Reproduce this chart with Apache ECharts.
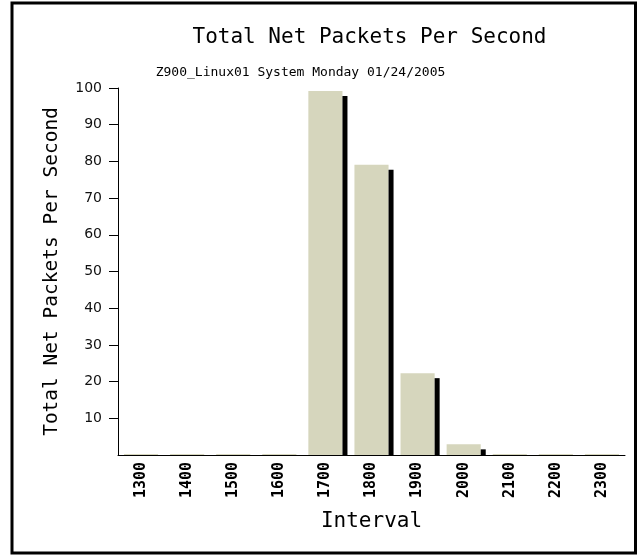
<!DOCTYPE html>
<html>
<head>
<meta charset="utf-8">
<script src="https://cdn.jsdelivr.net/npm/echarts@6/dist/echarts.min.js"></script>
<style>
html,body{margin:0;padding:0;background:#fff;}
#chart{width:640px;height:559px;}
</style>
</head>
<body>
<div id="chart"></div>
<script>
const categories = ['1300','1400','1500','1600','1700','1800','1900','2000','2100','2200','2300'];
const packets = [0.3, 0.3, 0.3, 0.3, 99.2, 79.1, 22.3, 2.9, 0.3, 0.3, 0.3];
const yTickValues = [10, 20, 30, 40, 50, 60, 70, 80, 90, 100];
const titleText = 'Total Net Packets Per Second';
const subtitleText = 'Z900_Linux01 System Monday 01/24/2005';
const yTitle = 'Total Net Packets Per Second';
const xTitle = 'Interval';

const mono = '"DejaVu Sans Mono", "Liberation Mono", monospace';
const chart = echarts.init(document.getElementById('chart'), null, {renderer: 'canvas'});

chart.setOption({
  backgroundColor: '#ffffff',
  animation: false,
  grid: {left: 118, right: 15, top: 88, bottom: 104, containLabel: false},
  graphic: [
    {type: 'rect', shape: {x: 12, y: 3, width: 623.5, height: 550}, style: {fill: 'none', stroke: '#000', lineWidth: 3}, z: 10},
    {type: 'text', x: 369.5, y: 38, style: {text: titleText, font: '21px ' + mono, fill: '#000', textAlign: 'center', textVerticalAlign: 'middle'}},
    {type: 'text', x: 300.5, y: 73, style: {text: subtitleText, font: '13px ' + mono, fill: '#000', textAlign: 'center', textVerticalAlign: 'middle'}}
  ],
  xAxis: {
    type: 'category',
    data: categories,
    name: xTitle,
    nameLocation: 'middle',
    nameGap: 56,
    nameTextStyle: {fontFamily: mono, fontSize: 21, color: '#000'},
    axisLine: {lineStyle: {color: '#000', width: 1}},
    axisTick: {show: false},
    axisLabel: {rotate: 90, margin: 7, fontFamily: mono, fontWeight: 'bold', fontSize: 15, color: '#000'},
    splitLine: {show: false}
  },
  yAxis: {
    type: 'value',
    min: 0, max: 100, interval: 10,
    name: yTitle,
    nameLocation: 'middle',
    nameGap: 56,
    nameTextStyle: {fontFamily: mono, fontSize: 19.5, color: '#000'},
    axisLine: {show: true, lineStyle: {color: '#000', width: 1}},
    axisTick: {show: true, length: 9, customValues: yTickValues, lineStyle: {color: '#000'}},
    axisLabel: {margin: 16, fontFamily: '"DejaVu Sans", Verdana, sans-serif', fontSize: 14, color: '#111',
      customValues: yTickValues},
    splitLine: {show: false}
  },
  series: [{
    type: 'custom',
    data: packets.map((v, i) => [i, v]),
    encode: {x: 0, y: 1},
    renderItem: function (params, api) {
      const idx = api.value(0), val = api.value(1);
      const top = api.coord([idx, val]);
      const base = api.coord([idx, 0]);
      const bw = api.size([1, 0])[0];
      const w = bw * 0.74;
      const x = top[0] - w / 2;
      const h = base[1] - top[1];
      const sh = 5;
      return {
        type: 'group',
        children: [
          {type: 'rect', shape: {x: x, y: top[1], width: w, height: h}, style: {fill: '#d6d6bd'}},
          {type: 'rect', shape: {x: x + w, y: top[1] + sh, width: sh, height: Math.max(0, h - sh)}, style: {fill: '#000'}}
        ]
      };
    }
  }]
});
</script>
</body>
</html>
